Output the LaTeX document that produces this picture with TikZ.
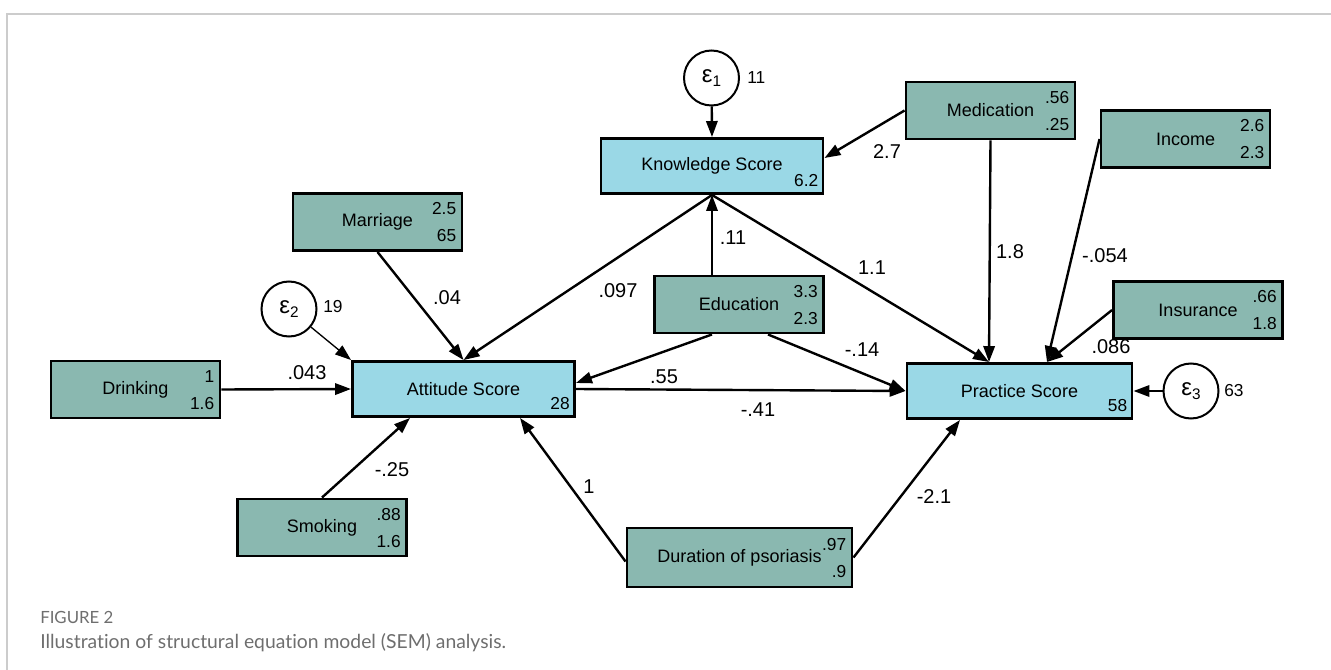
\documentclass[tikz,border=0pt]{standalone}
\usepackage{fontspec}
\setmainfont{Liberation Sans}
\newfontfamily\capfont[Ligatures=NoCommon]{Lato}
\usetikzlibrary{arrows.meta}
\definecolor{obsfill}{RGB}{138,184,176}
\definecolor{scorefill}{RGB}{154,216,230}
\definecolor{framegray}{RGB}{204,204,204}
\definecolor{capgray}{RGB}{110,110,110}
\newlength\px
\setlength\px{0.75pt}
\newcommand\errlab[1]{{\fontsize{18}{20}\selectfont ε}\raisebox{-2.5pt}{\fontsize{11.5}{12}\selectfont #1}}

\begin{document}
\begin{tikzpicture}[x=0.75pt,y=-0.75pt,
  varbox/.style={draw, line width=2.2pt, fill=obsfill, minimum width=169\px, minimum height=57\px, inner sep=0pt, font=\fontsize{13.5}{16}\selectfont},
  scorebox/.style={varbox, fill=scorefill, minimum width=222\px, minimum height=55\px},
  errc/.style={draw, circle, line width=1.5pt, fill=white, minimum size=55\px, inner sep=0pt},
  num/.style={inner sep=0pt, font=\fontsize{13}{14}\selectfont},
  coef/.style={inner sep=0pt, font=\fontsize{15}{18}\selectfont},
  link/.style={line width=1.8pt, -{Triangle[length=12pt,width=8.5pt]}},
  thinlink/.style={link, line width=1pt}]
\useasboundingbox (0,0) rectangle (1331,670);
\draw[framegray, line width=1.5pt] (7,670) -- (7,14) -- (1331,14);

\node[scorebox] (know) at (712,166) {Knowledge Score};
\node[scorebox] (att) at (463.5,389) {Attitude Score};
\node[scorebox, minimum width=225\px] (prac) at (1019.5,391) {Practice Score};

\node[varbox] (med) at (990.5,110.5) {Medication};
\node[varbox] (inc) at (1185.5,139) {Income};
\node[varbox] (marr) at (377.5,222) {Marriage};
\node[varbox] (edu) at (739,304.5) {Education};
\node[varbox] (ins) at (1198,310) {Insurance};
\node[varbox] (drink) at (135.5,389.5) {Drinking};
\node[varbox] (smoke) at (322,527.5) {Smoking};
\node[varbox, minimum width=225\px, minimum height=59\px] (dur) at (739.5,557.5) {Duration of psoriasis};

\foreach \n/\a/\b in {med/.56/.25, inc/2.6/2.3, marr/2.5/65, edu/3.3/2.3, ins/.66/1.8,
  drink/1/1.6, smoke/.88/1.6, dur/.97/.9} {
  \node[num, anchor=east] (\n-t) at ([xshift=-7\px,yshift=13\px]\n.east) {\a};
  \node[num, anchor=east] (\n-b) at ([xshift=-7\px,yshift=-14\px]\n.east) {\b};
}
\foreach \n/\c in {know/6.2, att/28, prac/58}
  \node[num, anchor=base east] (\n-c) at ([xshift=-6\px,yshift=8\px]\n.south east) {\c};

\node[errc] (e1) at (711.5,78) {\errlab{1}};
\node[errc] (e2) at (289,309) {\errlab{2}};
\node[errc] (e3) at (1191,391) {\errlab{3}};
\node[num, anchor=west] (e1-v) at (747,78) {11};
\node[num, anchor=west] (e2-v) at (323,307) {19};
\node[num, anchor=west] (e3-v) at (1224,391) {63};

\draw[link] (e1) -- (know.north);
\draw[thinlink] (e2) -- (att.north west);
\draw[link] (e3) -- (prac.east);

\draw[link] (med.west) -- ([yshift=8\px]know.east);
\draw[link] (med.south) -- ([xshift=-30.5\px]prac.north);
\draw[link] (know.south) -- ([xshift=-30.5\px]prac.north);
\draw[link] (inc.west) -- ([xshift=27.5\px]prac.north);
\draw[link] (ins.west) -- ([xshift=27.5\px]prac.north);
\draw[link] (know.south |- edu.north) -- (know.south);
\draw[link] (know.south) -- (att.north);
\draw[link] (marr.south) -- (att.north);
\draw[link] (drink.east) -- (att.west);
\draw[link] (smoke.north) -- ([xshift=-53.5\px]att.south);
\draw[link] ([xshift=-27\px]edu.south) -- ([yshift=6\px]att.east);
\draw[link] ([xshift=29\px]edu.south) -- (prac.west);
\draw[link] (att.east) -- (prac.west);
\draw[link] ([yshift=-4\px]dur.west) -- ([xshift=56.5\px]att.south);
\draw[link] (dur.east) -- ([xshift=-59.5\px]prac.south);

\node[coef] (w-medknow) at (887,152) {2.7};
\node[coef] (w-medprac) at (1010,252) {1.8};
\node[coef] (w-incprac) at (1105,256) {-.054};
\node[coef] (w-insprac) at (1111,347) {.086};
\node[coef] (w-knowprac) at (872,268) {1.1};
\node[coef] (w-eduknow) at (733,238) {.11};
\node[coef] (w-knowatt) at (618,291) {.097};
\node[coef] (w-marratt) at (447,298) {.04};
\node[coef] (w-drinkatt) at (307,373) {.043};
\node[coef] (w-smokeatt) at (392,470) {-.25};
\node[coef] (w-eduatt) at (664,377) {.55};
\node[coef] (w-eduprac) at (862,350) {-.14};
\node[coef] (w-attprac) at (758,410) {-.41};
\node[coef] (w-duratt) at (589,487) {1};
\node[coef] (w-durprac) at (934,497) {-2.1};

\node[capgray, inner sep=0pt, anchor=base west, font=\capfont\fontsize{12.6}{14}\selectfont] (fig) at (40,623) {FIGURE 2};
\node[capgray, inner sep=0pt, anchor=base west, font=\capfont\fontsize{14.5}{17}\selectfont] (cap) at (40,648) {Illustration of structural equation model (SEM) analysis.};
\end{tikzpicture}
\end{document}
